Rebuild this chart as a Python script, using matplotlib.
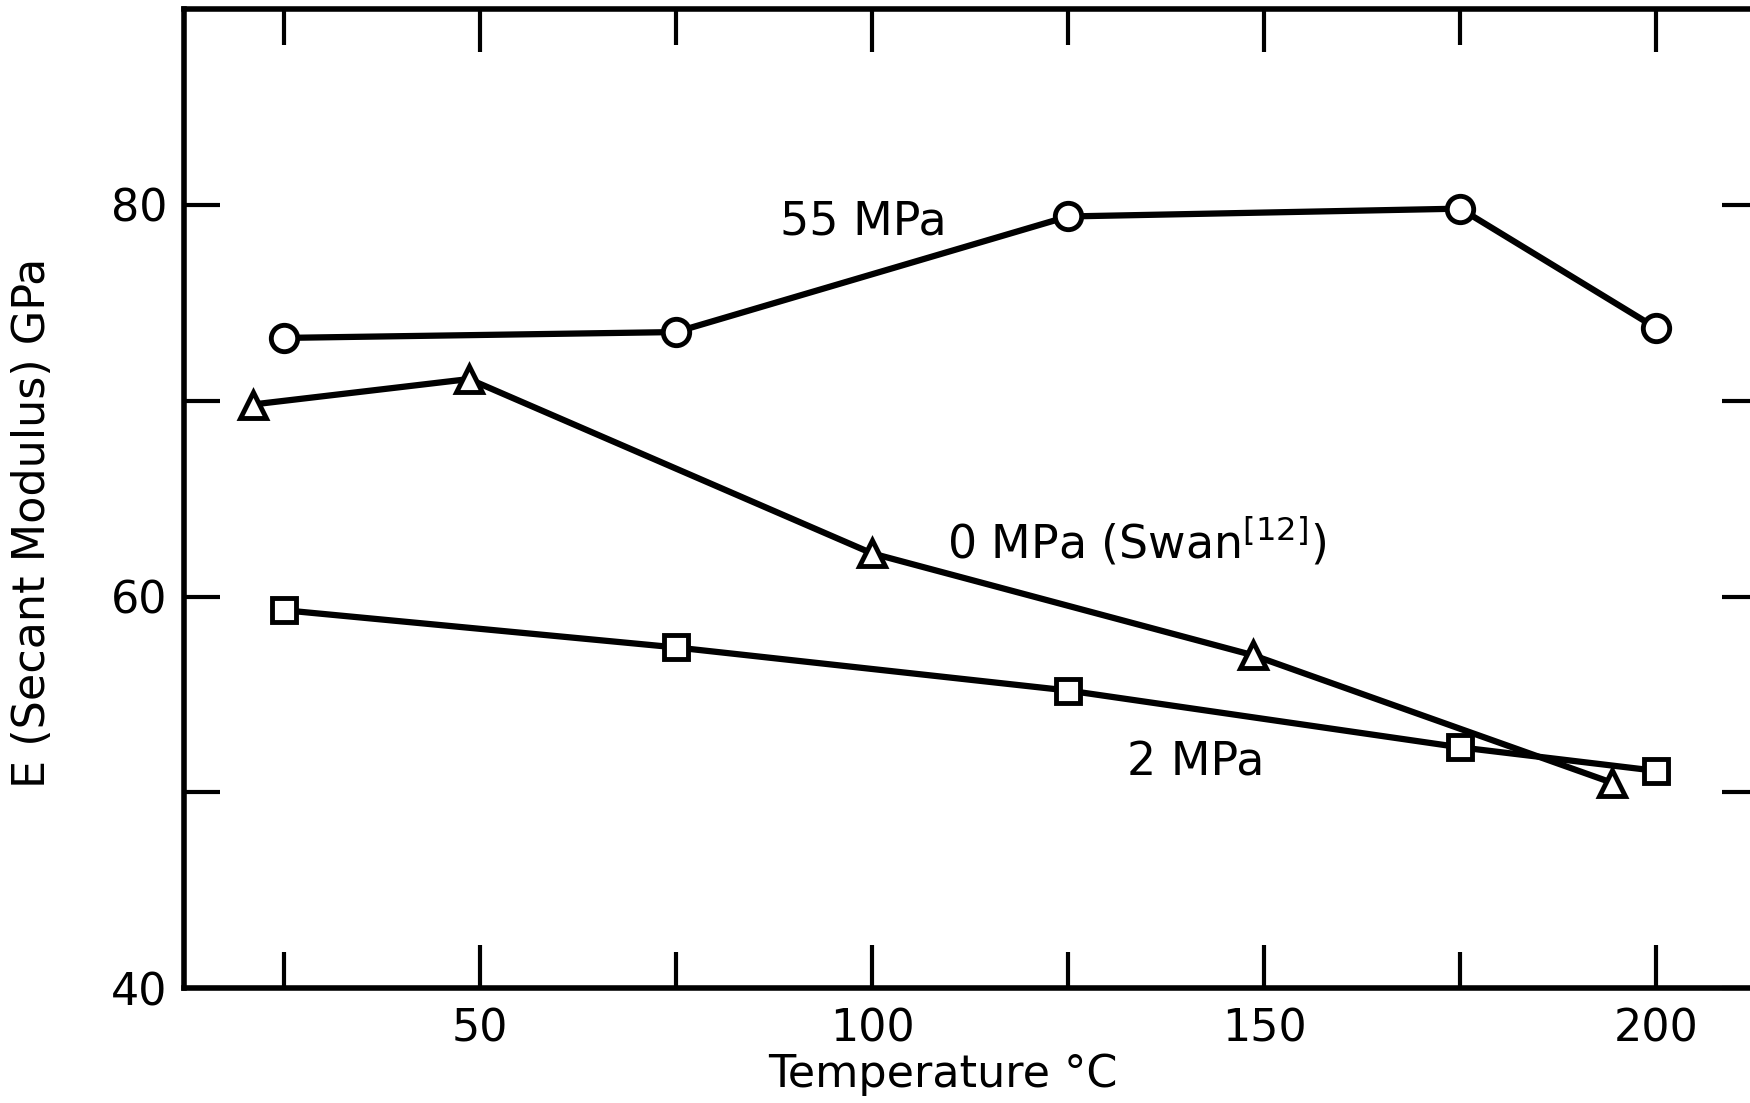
import matplotlib
matplotlib.use("Agg")
import matplotlib.pyplot as plt

# temperatures (deg C)
temp_55 = [25, 75, 125, 175, 200]
e_55 = [73.2, 73.5, 79.4, 79.8, 73.7]

temp_0 = [21, 48.6, 100, 148.6, 194.3]
e_0 = [69.8, 71.1, 62.2, 57.0, 50.5]

temp_2 = [25, 75, 125, 175, 200]
e_2 = [59.3, 57.4, 55.2, 52.3, 51.1]

xticks_major = [50, 100, 150, 200]
xticks_minor = [25, 75, 125, 175]
yticks = [50, 60, 70, 80]
ylabels_shown = [40, 60, 80]

plt.rcParams['font.family'] = ['DejaVu Sans']

fig = plt.figure(figsize=(17.5, 11.03), dpi=100)
ax = fig.add_axes([0.1053, 0.104, 0.899, 0.888])

lw = 4.5
ax.plot(temp_55, e_55, color="black", lw=lw, marker="o", ms=19,
        mfc="white", mec="black", mew=3.5, zorder=3)
ax.plot(temp_0, e_0, color="black", lw=lw, marker="^", ms=19,
        mfc="white", mec="black", mew=3.5, zorder=3)
ax.plot(temp_2, e_2, color="black", lw=lw, marker="s", ms=17,
        mfc="white", mec="black", mew=3.5, zorder=3)

ax.text(88.3, 79.1, "55 MPa", fontsize=33, va="center", ha="left")
ax.text(109.6, 62.8, r"0 MPa (Swan$^{[12]}$)", fontsize=33, va="center", ha="left")
ax.text(132.5, 51.5, "2 MPa", fontsize=33, va="center", ha="left")

ax.set_xlim(12.3, 212.9)
ax.set_ylim(40, 90)

for s in ax.spines.values():
    s.set_linewidth(4)

# x ticks: major labelled, minor unlabelled, drawn on top and bottom
ax.set_xticks(xticks_major)
ax.set_xticks(xticks_minor, minor=True)
ax.tick_params(axis="x", which="major", direction="in", length=31, width=3,
               top=True, bottom=True, labelsize=32, pad=14)
ax.tick_params(axis="x", which="minor", direction="in", length=26, width=3,
               top=True, bottom=True)

# y ticks at every 10, labels only at 40, 60, 80
ax.set_yticks([40] + yticks)
ax.set_yticklabels([str(v) if v in ylabels_shown else "" for v in [40] + yticks])
ax.tick_params(axis="y", direction="in", length=26, width=3,
               left=True, right=True, labelsize=32, pad=12)

ax.set_xlabel("Temperature °C", fontsize=32)
ax.set_ylabel("E (Secant Modulus) GPa", fontsize=32)
ax.xaxis.set_label_coords(0.482, -0.066)
ax.yaxis.set_label_coords(-0.083, 0.475)

fig.savefig("out.png", dpi=100)
